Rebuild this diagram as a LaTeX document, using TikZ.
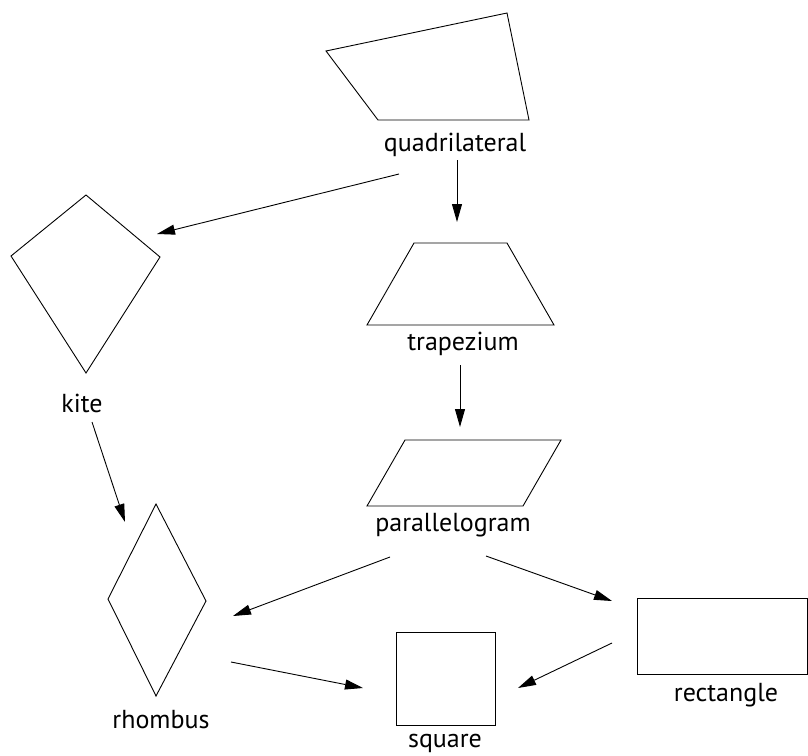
\documentclass[tikz,border=0pt]{standalone}
\usepackage{fontspec}
\setmainfont{PT Sans}
\usetikzlibrary{arrows.meta}
\begin{document}
\begin{tikzpicture}[x=1pt,y=-1pt,
  shapeline/.style={draw, line width=0.9pt, line join=miter},
  conn/.style={draw, line width=0.9pt, -{Triangle[length=18pt,width=10pt]}},
  lbl/.style={font=\fontsize{26}{26}\selectfont, anchor=base, inner sep=0pt}]
\useasboundingbox (0,0) rectangle (808,755);
% shapes
\draw[shapeline] (326,51) -- (507,13) -- (529,120) -- (378,120) -- cycle;
\draw[shapeline] (86,195) -- (160,257) -- (86,373) -- (11,256) -- cycle;
\draw[shapeline] (414,243) -- (507,243) -- (554,325) -- (367,325) -- cycle;
\draw[shapeline] (405,440) -- (561,440) -- (523,506) -- (367,506) -- cycle;
\draw[shapeline] (156,504) -- (206,601) -- (156,696) -- (108,599) -- cycle;
\draw[shapeline] (396,632) rectangle (495,725);
\draw[shapeline] (637,598) rectangle (807.5,674);
% labels
\node[lbl] (quadl) at (455,151) {quadrilateral};
\node[lbl] (kitel) at (82,412) {kite};
\node[lbl] (trapl) at (463,350) {trapezium};
\node[lbl] (paral) at (453,531) {parallelogram};
\node[lbl] (rhol) at (161,728) {rhombus};
\node[lbl] (squl) at (445,747.5) {square};
\node[lbl] (rectl) at (726,701) {rectangle};
% connector ends
\coordinate (q1) at (399,174); \coordinate (k0) at (157,234);
\coordinate (q2) at (457,160); \coordinate (t0) at (457,222);
\coordinate (k1) at (92,422); \coordinate (r0) at (125,522);
\coordinate (t1) at (460,365); \coordinate (p0) at (460,427);
\coordinate (p1) at (390,557); \coordinate (r1) at (233,616);
\coordinate (p2) at (486,556); \coordinate (e0) at (612,601);
\coordinate (r2) at (231,662); \coordinate (s0) at (363,688);
\coordinate (e1) at (612,643); \coordinate (s1) at (518,688);
\draw[conn] (q1) -- (k0);
\draw[conn] (q2) -- (t0);
\draw[conn] (k1) -- (r0);
\draw[conn] (t1) -- (p0);
\draw[conn] (p1) -- (r1);
\draw[conn] (p2) -- (e0);
\draw[conn] (r2) -- (s0);
\draw[conn] (e1) -- (s1);
\end{tikzpicture}
\end{document}
